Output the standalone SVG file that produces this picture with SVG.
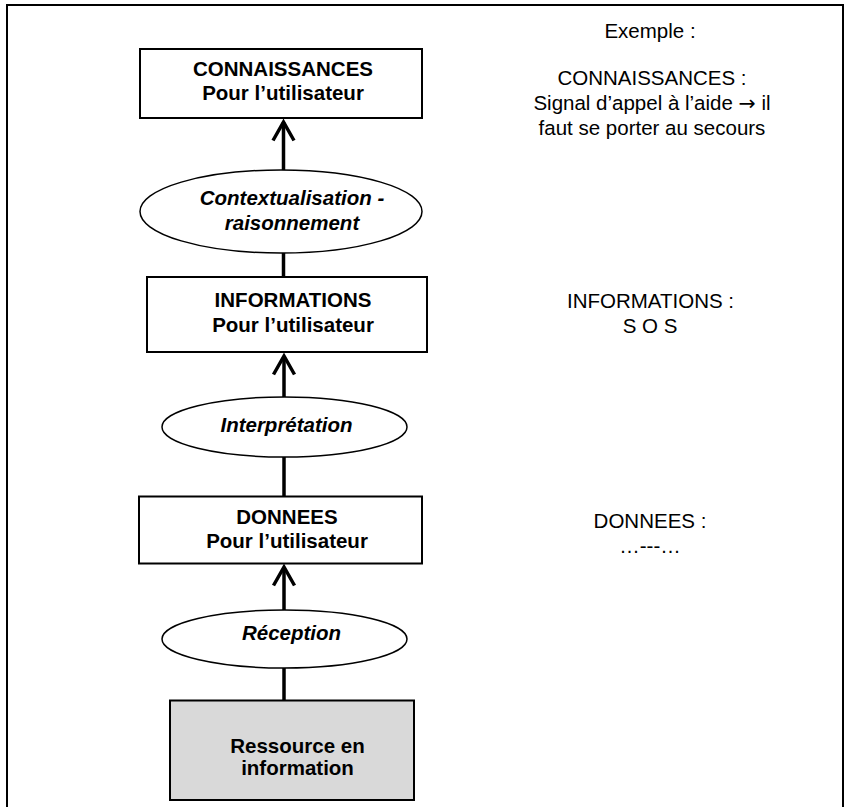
<svg xmlns="http://www.w3.org/2000/svg" width="848" height="807" viewBox="0 0 848 807">
<defs>
<style>
.box{fill:#ffffff;stroke:#000;stroke-width:2}
.res{fill:#d9d9d9;stroke:#000;stroke-width:2}
.ell{fill:#ffffff;stroke:#000;stroke-width:1.5}
.b{font-family:"Liberation Sans",Arial,sans-serif;font-weight:bold;font-size:20.5px;text-anchor:middle;fill:#000}
.bi{font-family:"Liberation Sans",Arial,sans-serif;font-weight:bold;font-style:italic;font-size:20.5px;text-anchor:middle;fill:#000}
.r{font-family:"Liberation Sans",Arial,sans-serif;font-size:20.5px;text-anchor:middle;fill:#000}
.sym{font-family:"DejaVu Sans",sans-serif}
.con{stroke:#000;stroke-width:3.5;fill:none}
.head{stroke:#000;stroke-width:3.5;fill:none;stroke-linejoin:miter}
</style>
</defs>
<rect x="0" y="0" width="848" height="807" fill="#ffffff"/>
<path d="M7,807 V5 H843 V807" fill="none" stroke="#000" stroke-width="2"/>

<g id="connectors">
<line class="con" x1="283.5" y1="170" x2="283.5" y2="122"/>
<path class="head" d="M273,140.5 L283.5,122 L294,140.5"/>
<line class="con" x1="283.5" y1="253" x2="283.5" y2="277"/>
<line class="con" x1="284" y1="397" x2="284" y2="356"/>
<path class="head" d="M273.5,374.5 L284,356 L294.5,374.5"/>
<line class="con" x1="284" y1="457" x2="284" y2="496"/>
<line class="con" x1="284" y1="610" x2="284" y2="567"/>
<path class="head" d="M273.5,585.5 L284,567 L294.5,585.5"/>
<line class="con" x1="284" y1="668" x2="284" y2="700"/>
</g>

<g id="connaissances">
<rect class="box" x="140" y="49" width="282" height="69"/>
<text class="b" x="283" y="76">CONNAISSANCES</text>
<text class="b" x="283" y="100">Pour l’utilisateur</text>
</g>

<g id="contextualisation">
<ellipse class="ell" cx="281" cy="211.5" rx="141" ry="41.5"/>
<text class="bi" x="292" y="205">Contextualisation -</text>
<text class="bi" x="292" y="230">raisonnement</text>
</g>

<g id="informations">
<rect class="box" x="147" y="277" width="280" height="75"/>
<text class="b" x="293" y="307">INFORMATIONS</text>
<text class="b" x="293" y="332">Pour l’utilisateur</text>
</g>

<g id="interpretation">
<ellipse class="ell" cx="284.5" cy="427" rx="122.5" ry="30"/>
<text class="bi" x="286.5" y="431.5">Interprétation</text>
</g>

<g id="donnees">
<rect class="box" x="139" y="496.5" width="283" height="67"/>
<text class="b" x="287" y="524">DONNEES</text>
<text class="b" x="287" y="548">Pour l’utilisateur</text>
</g>

<g id="reception">
<ellipse class="ell" cx="284.5" cy="639" rx="122.5" ry="29"/>
<text class="bi" x="291.5" y="640">Réception</text>
</g>

<g id="ressource">
<rect class="res" x="170" y="700.5" width="244" height="99.5"/>
<text class="b" x="297.5" y="753">Ressource en</text>
<text class="b" x="297.5" y="775">information</text>
</g>

<g id="exemple">
<text class="r" x="650" y="38">Exemple :</text>
<text class="r" x="652" y="85">CONNAISSANCES :</text>
<text class="r" x="652" y="110">Signal d’appel à l’aide <tspan class="sym">→</tspan> il</text>
<text class="r" x="652" y="135">faut se porter au secours</text>
<text class="r" x="650.5" y="308">INFORMATIONS :</text>
<text class="r" x="650" y="332.5">S O S</text>
<text class="r" x="650" y="528">DONNEES :</text>
<text class="r" x="650" y="553">…---…</text>
</g>
</svg>
